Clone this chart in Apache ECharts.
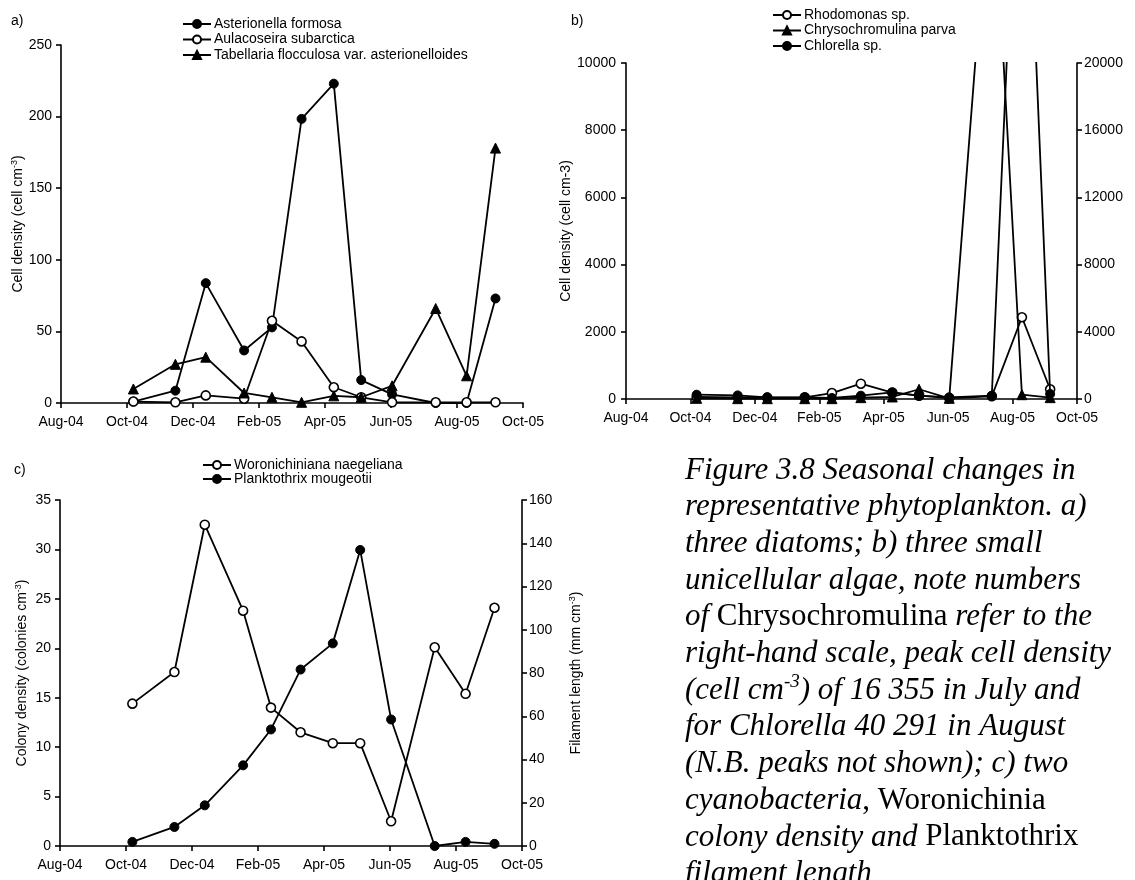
<!DOCTYPE html>
<html><head><meta charset="utf-8">
<script src="https://cdn.jsdelivr.net/npm/echarts@6/dist/echarts.min.js"></script>
<style>html,body{margin:0;padding:0;background:#fff}#c{width:1135px;height:880px}</style>
</head><body><div id="c"></div>
<script>
// ---------- data ----------
const xTickLabels = ['Aug-04','Oct-04','Dec-04','Feb-05','Apr-05','Jun-05','Aug-05','Oct-05'];
const sampleDates = ['2004-10-07','2004-11-15','2004-12-13','2005-01-18','2005-02-12','2005-03-10',
                     '2005-04-09','2005-05-04','2005-06-02','2005-07-12','2005-08-10','2005-09-06'];
// a) diatoms (cell cm-3)
const asterionella = [1, 8.6, 83.7, 36.7, 52.8, 198.4, 223, 16, 6, 0, 0, 73];
const aulacoseira  = [1, 0.5, 5.3, 3, 57.4, 43, 11, 4, 0.5, 0.5, 0.5, 0.5];
const tabellaria   = [9.8, 27, 32, 7, 4, 0.5, 5, 4, 12, 66, 19, 178];
// b) small unicellular algae
const rhodomonas       = [60, 50, 40, 50, 178, 455, 190, 100, 30, 80, 2433, 290];
const chrysochromulina = [20, 10, 10, 10, 10, 40, 60, 290, 20, 16355, 128, 40];
const chlorella        = [256, 214, 100, 100, 60, 196, 393, 196, 100, 196, 40291, 300];
// c) cyanobacteria
const woronichinia = [14.4, 17.6, 32.5, 23.8, 14.0, 11.5, 10.4, 10.4, 2.5, 20.1, 15.4, 24.1];
const planktothrix = [1.9, 8.8, 18.8, 37.3, 53.9, 81.6, 93.7, 136.9, 58.5, 0, 1.9, 1];

// ---------- helpers ----------
function monthPos(s){
  const [y,m,d] = s.split('-').map(Number);
  const dim = new Date(y, m, 0).getDate();
  return (y-2004)*12 + (m-8) + (d-1)/dim;
}
const xs = sampleDates.map(monthPos);
const pairs = vals => vals.map((v,i)=>[xs[i], v]);

const BLACK = '#000';
const FONT = 'Liberation Sans';
const axLine = {show:true, lineStyle:{color:BLACK, width:1.6}};
const axTick = {show:true, inside:false, length:5, lineStyle:{color:BLACK, width:1.6}};

function xAxis(grid){
  return {type:'value', gridIndex:grid, min:0, max:14, interval:2,
    axisLine:axLine, axisTick:axTick, splitLine:{show:false},
    axisLabel:{color:BLACK, fontSize:14, fontFamily:FONT, margin:12, showMinLabel:true, showMaxLabel:true,
      formatter: v => xTickLabels[Math.round(v/2)] || ''}};
}
function yAxis(grid, min, max, interval, pos, name, gap, margin){
  return {type:'value', gridIndex:grid, min, max, interval, position:pos,
    axisLine:axLine, axisTick:axTick, splitLine:{show:false},
    axisLabel:{color:BLACK, fontSize:14, fontFamily:FONT, margin:margin, formatter: v => String(v)},
    name:name, nameLocation:'middle', nameRotate:90, nameGap:gap,
    nameTextStyle:{color:BLACK, fontSize:14, fontFamily:FONT,
      rich:{t:{fontSize:14, fontFamily:FONT, color:BLACK, lineHeight:16},
            s:{fontSize:9, fontFamily:FONT, color:BLACK, lineHeight:10, verticalAlign:'top'}}}};
}
function series(name, data, kind, xi, yi, z){
  const filled = kind !== 'open';
  return {type:'line', name, data:pairs(data), xAxisIndex:xi, yAxisIndex:yi,
    symbol: kind==='tri' ? 'triangle' : 'circle', symbolSize: kind==='tri' ? 10 : 9,
    showAllSymbol:true, clip:true, z:z, animation:false,
    lineStyle:{color:BLACK, width:1.8},
    itemStyle: filled ? {color:BLACK, borderColor:BLACK, borderWidth:1}
                      : {color:'#fff', borderColor:BLACK, borderWidth:1.6},
    emphasis:{disabled:true}};
}
function legend(names, left, top, gap){
  return {data:names, left, top, padding:0, orient:'vertical', itemWidth:28, itemHeight:10, itemGap:gap,
    selectedMode:false, textStyle:{color:BLACK, fontSize:14, fontFamily:FONT, lineHeight:14, padding:[0,0,0,-2]}};
}

const captionLines = [
  '{i|Figure 3.8 Seasonal changes in}',
  '{i|representative phytoplankton. a)}',
  '{i|three diatoms; b) three small}',
  '{i|unicellular algae, note numbers}',
  '{i|of }{n|Chrysochromulina}{i| refer to the}',
  '{i|right-hand scale, peak cell density}',
  '{i|(cell cm}{s|-3}{i|) of 16 355 in July and}',
  '{i|for Chlorella 40 291 in August}',
  '{i|(N.B. peaks not shown); c) two}',
  '{i|cyanobacteria}{n|, Woronichinia}',
  '{i|colony density and }{n|Planktothrix}',
  '{i|filament length}'
];
const CAP_LH = 36.7;

const option = {
  animation:false,
  backgroundColor:'#fff',
  textStyle:{fontFamily:FONT, color:BLACK},
  grid:[
    {left:61, top:45, width:462, height:358, outerBoundsMode:'none', containLabel:false},
    {left:626, top:63, width:451, height:336, outerBoundsMode:'none', containLabel:false},
    {left:60, top:500, width:462, height:346, outerBoundsMode:'none', containLabel:false}
  ],
  xAxis:[xAxis(0), xAxis(1), xAxis(2)],
  yAxis:[
    yAxis(0, 0, 250, 50, 'left', '{t|Cell density (cell cm}{s|-3}{t|)}', 35, 9),
    yAxis(1, 0, 10000, 2000, 'left', 'Cell density (cell cm-3)', 48, 10),
    yAxis(1, 0, 20000, 4000, 'right', '', 40, 7),
    yAxis(2, 0, 35, 5, 'left', '{t|Colony density (colonies cm}{s|-3}{t|)}', 30, 9),
    yAxis(2, 0, 160, 20, 'right', '{t|Filament length (mm cm}{s|-3}{t|)}', 46, 7)
  ],
  legend:[
    legend(['Asterionella formosa','Aulacoseira subarctica','Tabellaria flocculosa var. asterionelloides'], 182, 17, 1.5),
    legend(['Rhodomonas sp.','Chrysochromulina parva','Chlorella sp.'], 772, 8, 1.5),
    legend(['Woronichiniana naegeliana','Planktothrix mougeotii'], 202, 458, 0)
  ],
  series:[
    series('Asterionella formosa', asterionella, 'filled', 0, 0, 2),
    series('Aulacoseira subarctica', aulacoseira, 'open', 0, 0, 3),
    series('Tabellaria flocculosa var. asterionelloides', tabellaria, 'tri', 0, 0, 4),
    series('Rhodomonas sp.', rhodomonas, 'open', 1, 1, 2),
    series('Chrysochromulina parva', chrysochromulina, 'tri', 1, 1, 3),
    series('Chlorella sp.', chlorella, 'filled', 1, 2, 4),
    series('Woronichiniana naegeliana', woronichinia, 'open', 2, 3, 2),
    series('Planktothrix mougeotii', planktothrix, 'filled', 2, 4, 3)
  ],
  graphic:[
    {type:'text', x:11, y:14, style:{text:'a)', font:'14px "Liberation Sans"', fill:BLACK}},
    {type:'text', x:571, y:14, style:{text:'b)', font:'14px "Liberation Sans"', fill:BLACK}},
    {type:'text', x:14, y:463, style:{text:'c)', font:'14px "Liberation Sans"', fill:BLACK}},
    {type:'text', x:685, y:452, style:{
      text: captionLines.join('\n'), fill:BLACK, align:'left', verticalAlign:'top',
      rich:{
        i:{fontFamily:'Liberation Serif', fontStyle:'italic', fontSize:31, lineHeight:CAP_LH, fill:BLACK},
        n:{fontFamily:'Liberation Serif', fontStyle:'normal', fontSize:31, lineHeight:CAP_LH, fill:BLACK},
        s:{fontFamily:'Liberation Serif', fontStyle:'italic', fontSize:19, lineHeight:22, verticalAlign:'top', fill:BLACK}
      }}}
  ]
};
const chart = echarts.init(document.getElementById('c'), null, {renderer:'canvas'});
chart.setOption(option);
</script></body></html>
